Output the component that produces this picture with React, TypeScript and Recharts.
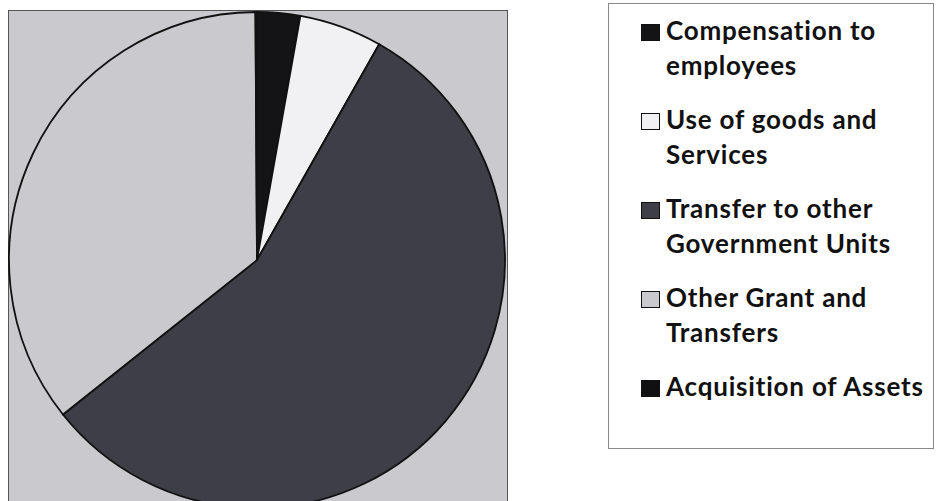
import React from "react";
import { PieChart, Pie, Cell, Legend } from "recharts";

const categories = [
  "Compensation to employees",
  "Use of goods and Services",
  "Transfer to other Government Units",
  "Other Grant and Transfers",
  "Acquisition of Assets",
];
const legendLines = [
  ["Compensation to", "employees"],
  ["Use of goods and", "Services"],
  ["Transfer to other", "Government Units"],
  ["Other Grant and", "Transfers"],
  ["Acquisition of Assets"],
];
const values = [2.8, 5.4, 56.1, 35.6, 0.1];
const colors = ["#141417", "#f1f1f4", "#3e3e46", "#c9c9ce", "#101012"];

const data = categories.map((name, i) => ({ name, value: values[i] }));

const renderLegend = (props: any) => {
  const payload = props.payload || [];
  return (
    <div
      style={{
        width: 326,
        height: 446,
        border: "1px solid #888",
        background: "#fff",
        boxSizing: "border-box",
        paddingTop: 9,
        paddingLeft: 32,
        fontFamily: "Lato, 'Open Sans', sans-serif",
        fontWeight: 700,
        fontSize: 26,
        letterSpacing: 0.8,
        color: "#111",
      }}
    >
      {payload.map((entry: any, i: number) => (
        <div key={i} style={{ display: "flex", alignItems: "flex-start", marginBottom: 19 }}>
          <div
            style={{
              width: 19,
              height: 17,
              marginTop: 11,
              marginRight: 6,
              background: colors[i],
              border: "1px solid #111",
              boxSizing: "border-box",
              flex: "0 0 auto",
            }}
          />
          <div style={{ lineHeight: "35px", whiteSpace: "nowrap" }}>
            {(legendLines[i] || [entry.value]).map((l, j) => (
              <div key={j}>{l}</div>
            ))}
          </div>
        </div>
      ))}
    </div>
  );
};

export default function App() {
  return (
    <div style={{ position: "fixed", left: 0, top: 0, width: 936, height: 501, background: "#fff" }}>
      <div
        style={{
          position: "absolute",
          left: 8,
          top: 10,
          width: 500,
          height: 495,
          background: "#c9c9ce",
          border: "1px solid #555",
          boxSizing: "border-box",
        }}
      />
      <div style={{ position: "absolute", left: 0, top: 0 }}>
        <PieChart width={936} height={501}>
          <Pie
            data={data}
            dataKey="value"
            nameKey="name"
            cx={252}
            cy={255}
            outerRadius={248}
            startAngle={90}
            endAngle={-270}
            stroke="#111"
            strokeWidth={1.8}
            isAnimationActive={false}
          >
            {data.map((d, i) => (
              <Cell key={d.name} fill={colors[i]} />
            ))}
          </Pie>
          <Legend
            content={renderLegend}
            wrapperStyle={{ position: "absolute", left: 608, top: 3, width: 326, height: 446 }}
          />
        </PieChart>
      </div>
    </div>
  );
}
